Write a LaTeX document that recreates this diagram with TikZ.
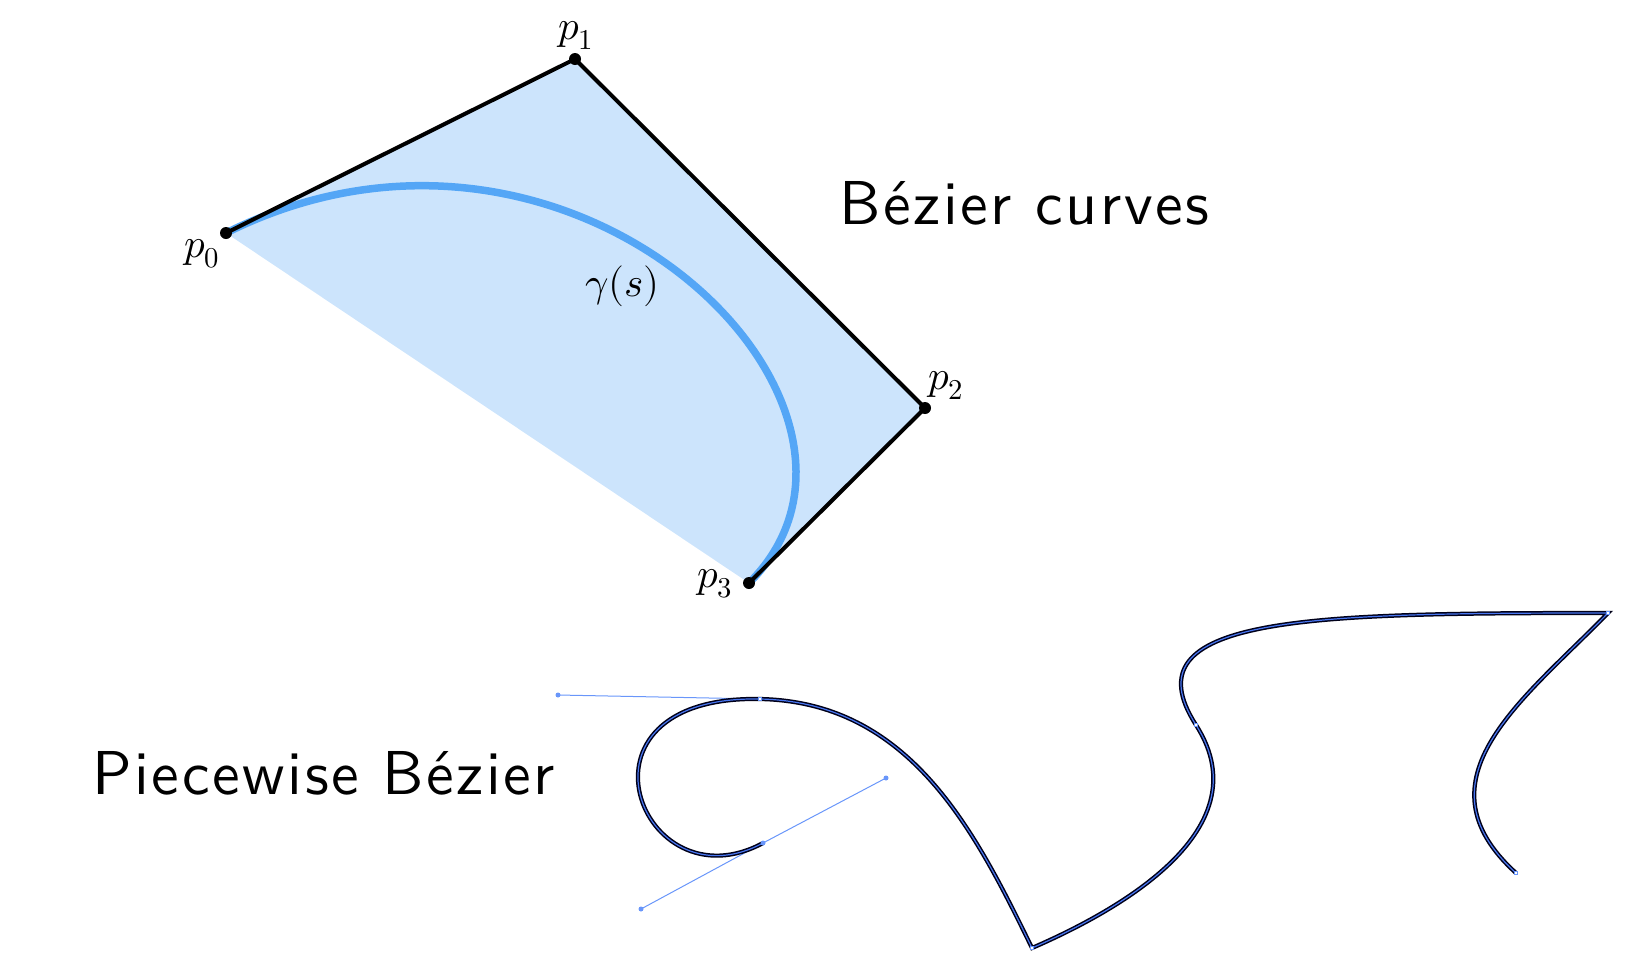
\documentclass[tikz,border=0pt]{standalone}
\usepackage{unicode-math}
\newfontfamily\titlefont{lmsans10-regular}[Extension=.otf, LetterSpace=4.3]
\definecolor{hullfill}{RGB}{204,228,252}
\definecolor{gammablue}{RGB}{84,166,246}
\definecolor{selblue}{RGB}{72,118,240}
\definecolor{handleblue}{RGB}{105,150,250}
\begin{document}
\begin{tikzpicture}[x=1pt,y=-1pt,
  cpt/.style={circle,fill=black,inner sep=0,minimum size=12pt},
  lbl/.style={anchor=base,inner sep=0,font=\fontsize{41}{49}\selectfont},
  title/.style={anchor=base west,inner sep=0,font=\titlefont\fontsize{62}{74}\selectfont},
  hullline/.style={line width=4pt,black},
  gammacurve/.style={line width=7.5pt,gammablue},
  pathblack/.style={line width=4.2pt,black!90!blue},
  pathsel/.style={line width=1.2pt,selblue},
  handleline/.style={line width=1pt,handleblue},
  hdot/.style={circle,fill=handleblue,inner sep=0,minimum size=5pt},
  adot/.style={rectangle,fill=white,draw=handleblue,line width=0.6pt,inner sep=0,minimum size=3.5pt}]
\useasboundingbox (0,0) rectangle (1642,962);

% ---------- upper figure: cubic Bezier with control polygon ----------
\coordinate (p0) at (226,233);
\coordinate (p1) at (575,59);
\coordinate (p2) at (925,408);
\coordinate (p3) at (749,583);
\fill[hullfill] (p0) -- (p1) -- (p2) -- (p3) -- cycle;
\draw[gammacurve] (p0) .. controls (p1) and (p2) .. (p3);
\draw[hullline] (p0) -- (p1) -- (p2) -- (p3);
\node[cpt] (d0) at (p0) {};
\node[cpt] (d1) at (p1) {};
\node[cpt] (d2) at (p2) {};
\node[cpt] (d3) at (p3) {};
\node[lbl] (l0) at (202,257) {$p_0$};
\node[lbl] (l1) at (576,39) {$p_1$};
\node[lbl] (l2) at (946,389) {$p_2$};
\node[lbl] (l3) at (715,587) {$p_3$};
\node[lbl] (lg) at (622.5,296.5) {$\gamma(s)$};
\node[title] (t1) at (839,224) {Bézier curves};

% ---------- lower figure: piecewise Bezier ----------
\node[title] (t2) at (92,794) {Piecewise Bézier};
\coordinate (A) at (763,843);
\coordinate (B) at (760,699);
\coordinate (C) at (1032,948);
\coordinate (D) at (1196,725);
\coordinate (E) at (1608,613);
\coordinate (F) at (1516,873);
\coordinate (HA1) at (641,909);
\coordinate (HA2) at (886,778);
\coordinate (HB) at (558,695);
\draw[handleline] (HA1) -- (A) -- (HA2);
\draw[handleline] (HB) -- (B);
\foreach \q in {pathblack,pathsel}
  \draw[\q] (A) .. controls (HA1) and (HB) .. (B)
     .. controls (910,702) and (975,831) .. (C)
     .. controls (1105.6,916) and (1266,834) .. (D)
     .. controls (1125.8,615.8) and (1308,613) .. (E)
     .. controls (1524,699.4) and (1412.4,779) .. (F);
\node[hdot] (h1) at (HA1) {};
\node[hdot] (h2) at (HA2) {};
\node[hdot] (h3) at (HB) {};
\node[hdot] (a0) at (A) {};
\node[adot] (a1) at (B) {};
\node[adot] (a2) at (C) {};
\node[adot] (a3) at (D) {};
\node[adot] (a4) at (E) {};
\node[adot] (a5) at (F) {};
\end{tikzpicture}
\end{document}
